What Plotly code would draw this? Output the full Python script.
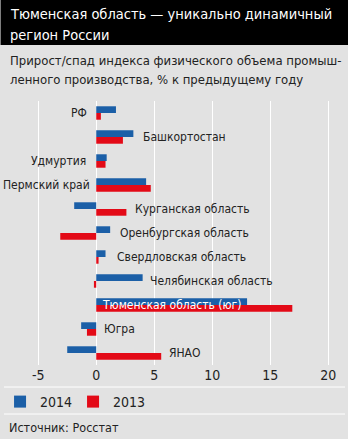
import plotly.graph_objects as go

regions = ["РФ", "Башкортостан", "Удмуртия", "Пермский край", "Курганская область",
           "Оренбургская область", "Свердловская область", "Челябинская область",
           "Тюменская область (юг)", "Югра", "ЯНАО"]
v2014 = [1.7, 3.2, 0.9, 4.3, -1.9, 1.2, 0.8, 4.0, 13.0, -1.3, -2.5]
v2013 = [0.4, 2.3, 0.8, 4.7, 2.6, -3.1, 0.2, -0.2, 16.9, -0.8, 5.6]
tick_vals = [-5, 0, 5, 10, 15, 20]
tick_text = ["-5", "0", "5", "10", "15", "20"]

BLUE = "#1b5fa7"
RED = "#e30a17"
BG = "#e2e2e2"
FONT = "DejaVu Sans Condensed, Liberation Sans Narrow, sans-serif"

W, H = 348, 439
TOP, BOT = 101, 365
PH = BOT - TOP


def py(Y):
    return (BOT - Y) / PH


def px(X):
    return X / W


def f(size, color="#222"):
    return dict(family=FONT, size=size, color=color)


fig = go.Figure()
fig.add_trace(go.Bar(y=regions, x=v2014, orientation="h", name="2014",
                     marker=dict(color=BLUE, line=dict(width=0))))
fig.add_trace(go.Bar(y=regions, x=v2013, orientation="h", name="2013",
                     marker=dict(color=RED, line=dict(width=0))))

# label placement (x in data units, anchor side, text colour)
label_pos = [(-0.6, "right", "#222"), (3.9, "left", "#222"), (-0.7, "right", "#222"),
             (-0.35, "right", "#222"), (3.2, "left", "#222"), (1.9, "left", "#222"),
             (1.65, "left", "#222"), (4.45, "left", "#222"), (0.35, "left", "white"),
             (0.5, "left", "#222"), (6.1, "left", "#222")]

annotations = []
for name, (lx, anc, col) in zip(regions, label_pos):
    annotations.append(dict(x=lx, y=name, xref="x", yref="y", text=name, showarrow=False,
                            xanchor=anc, yanchor="middle", font=f(12, col)))

annotations += [
    dict(x=px(4), y=py(14), xref="paper", yref="paper", showarrow=False,
         xanchor="left", yanchor="middle", text="Тюменская область — уникально динамичный",
         font=f(14.5, "white")),
    dict(x=px(4), y=py(35), xref="paper", yref="paper", showarrow=False,
         xanchor="left", yanchor="middle", text="регион России",
         font=f(14.5, "white")),
    dict(x=px(4), y=py(60), xref="paper", yref="paper", showarrow=False,
         xanchor="left", yanchor="middle",
         text="Прирост/спад индекса физического объема промыш-",
         font=f(13)),
    dict(x=px(4), y=py(80), xref="paper", yref="paper", showarrow=False,
         xanchor="left", yanchor="middle",
         text="ленного производства, % к предыдущему году",
         font=f(13)),
    dict(x=px(3), y=py(427), xref="paper", yref="paper", showarrow=False,
         xanchor="left", yanchor="middle", text="Источник: Росстат",
         font=f(12.5)),
]

shapes = [
    dict(type="rect", xref="paper", yref="paper", x0=-0.01, x1=1.01, y0=py(45), y1=py(-2),
         fillcolor="black", line=dict(width=0), layer="below"),
    dict(type="line", xref="paper", yref="paper", x0=0, x1=px(345), y0=py(387), y1=py(387),
         line=dict(color="white", width=1)),
    dict(type="line", xref="paper", yref="paper", x0=0, x1=px(345), y0=py(414), y1=py(414),
         line=dict(color="white", width=1)),
]

fig.update_layout(
    width=W, height=H,
    margin=dict(l=0, r=0, t=TOP, b=H - BOT, pad=0),
    paper_bgcolor=BG, plot_bgcolor=BG,
    barmode="group", bargap=0.44, bargroupgap=0,
    showlegend=True,
    legend=dict(orientation="h", x=px(-4), y=py(402), xanchor="left", yanchor="middle",
                font=f(14), bgcolor="rgba(0,0,0,0)",
                traceorder="normal", itemwidth=30,
                entrywidth=28, entrywidthmode="pixels"),
    annotations=annotations, shapes=shapes,
    xaxis=dict(range=[-7.95, 21.7], tickvals=tick_vals, ticktext=tick_text,
               showgrid=True, gridcolor="white", gridwidth=1, zeroline=False,
               showline=False, ticks="", fixedrange=True,
               tickfont=f(14)),
    yaxis=dict(autorange="reversed", showticklabels=False, showgrid=False,
               zeroline=False, showline=False, ticks=""),
)

fig.write_html("out.html")
